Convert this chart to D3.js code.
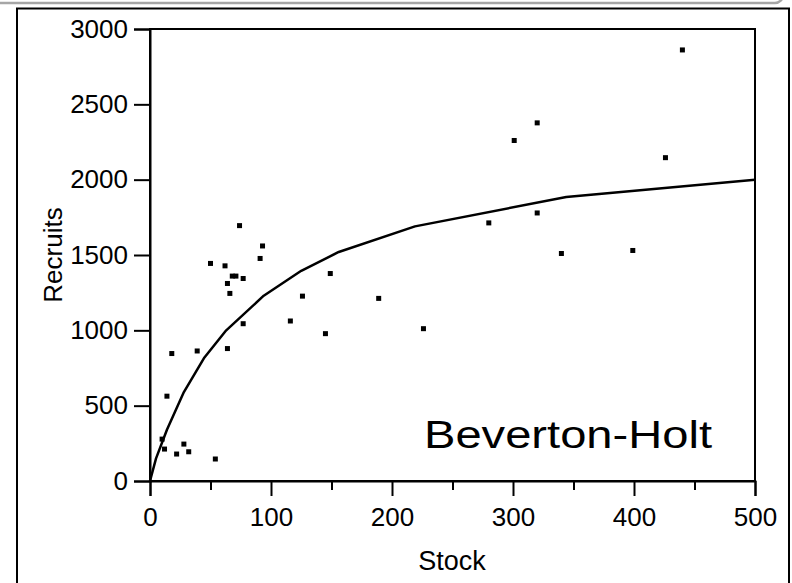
<!DOCTYPE html>
<meta charset="utf-8">
<head>
<style>
  body { margin: 0; background: #fff; }
  svg { display: block; font-family: "Liberation Sans", Arial, sans-serif; }
  .axis text { font-size: 26px; fill: #000; }
  .axis path, .axis line { stroke: #000; stroke-width: 2px; }
</style>
</head>
<body>
<svg id="chart"></svg>
<script src="https://d3js.org/d3.v7.min.js"></script>
<script>
// observed stock / recruits pairs
var stock    = [91, 93, 74, 50, 62, 68, 71, 77, 64, 66, 149, 126, 116, 145, 77, 64, 39, 18,
                14, 10, 12, 22, 28, 32, 54, 189, 226, 301, 280, 320, 320, 340, 399, 426, 440];
var recruits = [1477, 1560, 1695, 1444, 1428, 1360, 1360, 1344, 1311, 1245, 1377, 1227, 1062, 978, 1044, 879, 863, 846,
                563, 278, 212, 179, 245, 194, 146, 1212, 1011, 2260, 1713, 2377, 1779, 1510, 1530, 2146, 2861];

// fitted Beverton-Holt line, vertices
var curveStock    = [0, 5, 14, 28, 45, 63, 94, 125, 156, 219, 344, 500];
var curveRecruits = [0, 150, 340, 590, 820, 1000, 1230, 1395, 1520, 1690, 1885, 2000];

var xTicks = [0, 100, 200, 300, 400, 500];
var xMinor = [50, 150, 250, 350, 450];
var yTicks = [0, 500, 1000, 1500, 2000, 2500, 3000];

var W = 792, H = 583;
var plotL = 150, plotR = 755, plotT = 29, plotB = 481;

var svg = d3.select("#chart").attr("width", W).attr("height", H);

// window edge at the top
svg.append("path")
    .attr("d", "M0,3 H775 A8,8 0 0 0 783,-5")
    .attr("fill", "none")
    .attr("stroke", "#a6a6a6")
    .attr("stroke-width", 2.5);

// outer frame
svg.append("rect")
    .attr("x", 17).attr("y", 8.5)
    .attr("width", 772).attr("height", 600)
    .attr("fill", "none")
    .attr("stroke", "#000")
    .attr("stroke-width", 2);

var x = d3.scaleLinear().domain([0, 500]).range([plotL, plotR]);
var y = d3.scaleLinear().domain([0, 3000]).range([plotB, plotT]);

// plot box (top + right)
svg.append("rect")
    .attr("x", plotL).attr("y", plotT)
    .attr("width", plotR - plotL).attr("height", plotB - plotT)
    .attr("fill", "none")
    .attr("stroke", "#000")
    .attr("stroke-width", 2);

// minor x ticks
svg.append("g")
    .attr("class", "axis")
    .attr("transform", "translate(0," + plotB + ")")
    .call(d3.axisBottom(x).tickValues(xMinor).tickSize(9).tickFormat(""))
    .select(".domain").remove();

svg.append("g")
    .attr("class", "axis")
    .attr("transform", "translate(0," + plotB + ")")
    .call(d3.axisBottom(x).tickValues(xTicks).tickSizeOuter(0).tickSize(15).tickPadding(12)
        .tickFormat(d3.format("d")));

svg.append("g")
    .attr("class", "axis")
    .attr("transform", "translate(" + plotL + ",0)")
    .call(d3.axisLeft(y).tickValues(yTicks).tickSizeOuter(0).tickSize(16).tickPadding(6)
        .tickFormat(d3.format("d")));

// curve
var line = d3.line()
    .x(function(d, i) { return x(curveStock[i]); })
    .y(function(d, i) { return y(curveRecruits[i]); });

svg.append("path")
    .datum(curveStock)
    .attr("d", line)
    .attr("fill", "none")
    .attr("stroke", "#000")
    .attr("stroke-width", 2.5)
    .attr("stroke-linejoin", "round");

// points
svg.selectAll(".pt")
    .data(stock)
    .enter().append("rect")
    .attr("class", "pt")
    .attr("x", function(d) { return x(d) - 2.5; })
    .attr("y", function(d, i) { return y(recruits[i]) - 2.5; })
    .attr("width", 5)
    .attr("height", 5)
    .attr("fill", "#000");

// labels
svg.append("text")
    .attr("x", 452).attr("y", 570)
    .attr("text-anchor", "middle")
    .style("font-size", "27px")
    .text("Stock");

svg.append("text")
    .attr("transform", "translate(62,255) rotate(-90)")
    .attr("text-anchor", "middle")
    .style("font-size", "26px")
    .text("Recruits");

svg.append("text")
    .attr("x", 424).attr("y", 448)
    .attr("textLength", 288)
    .attr("lengthAdjust", "spacingAndGlyphs")
    .style("font-size", "39px")
    .text("Beverton-Holt");
</script>
</body>
